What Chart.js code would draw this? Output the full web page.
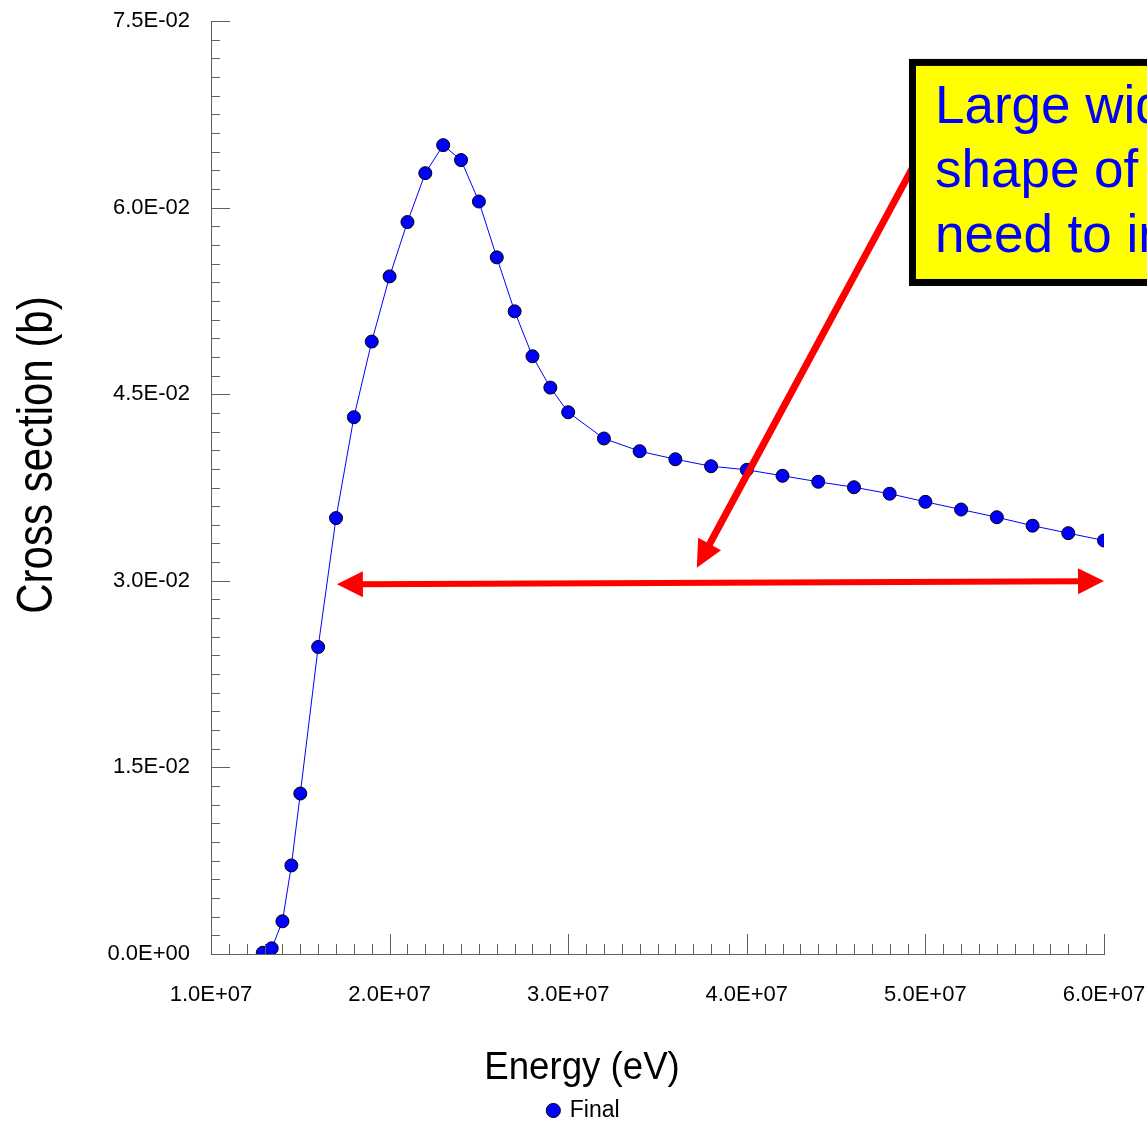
<!DOCTYPE html>
<html>
<head>
<meta charset="utf-8">
<script src="https://cdn.jsdelivr.net/npm/chart.js@4.4.0/dist/chart.umd.min.js"></script>
<style>
  html, body { margin: 0; padding: 0; background: #fff; }
</style>
</head>
<body>
<canvas id="chart" width="1147" height="1129"></canvas>
<script>
// excitation function, energy in eV, cross section in barns
const energy = [
  1.29e7, 1.34e7, 1.40e7, 1.45e7, 1.50e7, 1.60e7, 1.70e7, 1.80e7, 1.90e7, 2.00e7,
  2.10e7, 2.20e7, 2.30e7, 2.40e7, 2.50e7, 2.60e7, 2.70e7, 2.80e7, 2.90e7, 3.00e7,
  3.20e7, 3.40e7, 3.60e7, 3.80e7, 4.00e7, 4.20e7, 4.40e7, 4.60e7, 4.80e7, 5.00e7,
  5.20e7, 5.40e7, 5.60e7, 5.80e7, 6.00e7
];
const crossSection = [
  0.0001, 0.00046, 0.00263, 0.00712, 0.0129, 0.02468, 0.03504, 0.04315, 0.04923, 0.05447,
  0.05884, 0.06277, 0.06502, 0.06382, 0.06049, 0.0560, 0.05166, 0.04805, 0.04553, 0.04355,
  0.04144, 0.04042, 0.03977, 0.03921, 0.03892, 0.03844, 0.03796, 0.03752, 0.0370, 0.03635,
  0.03573, 0.03511, 0.03443, 0.03383, 0.03324
];
const xTicks = [1e7, 2e7, 3e7, 4e7, 5e7, 6e7];
const yTicks = [0, 0.015, 0.03, 0.045, 0.06, 0.075];
const xMinorStep = 1e6;
const yMinorStep = 0.0015;
const seriesName = 'Final';
const xTitle = 'Energy (eV)';
const yTitle = 'Cross section (b)';
const noteLines = ['Large width in the', 'shape of the peak', 'need to improve'];

const FONT = '"Liberation Sans", Arial, sans-serif';
const AXIS = '#606060';

// 7.5E-02 style labels
function sci(v) {
  const [m, e] = v.toExponential(1).split('e');
  const n = parseInt(e, 10);
  return m + 'E' + (n < 0 ? '-' : '+') + String(Math.abs(n)).padStart(2, '0');
}

// major/minor ticks pointing into the plot
const innerTicks = {
  id: 'innerTicks',
  afterDraw(chart) {
    const { ctx, chartArea: a, scales: { x, y } } = chart;
    ctx.save();
    ctx.strokeStyle = AXIS;
    ctx.lineWidth = 1;
    ctx.beginPath();
    const nx = Math.round((x.max - x.min) / xMinorStep);
    for (let i = 0; i <= nx; i++) {
      const px = Math.round(x.getPixelForValue(x.min + i * xMinorStep)) + 0.5;
      const len = i % 10 === 0 ? 20 : 10;
      ctx.moveTo(px, a.bottom);
      ctx.lineTo(px, a.bottom - len);
    }
    const ny = Math.round((y.max - y.min) / yMinorStep);
    for (let i = 0; i <= ny; i++) {
      const py = Math.round(y.getPixelForValue(y.min + i * yMinorStep)) + 0.5;
      const len = i % 10 === 0 ? 19 : 9;
      ctx.moveTo(a.left, py);
      ctx.lineTo(a.left + len, py);
    }
    ctx.stroke();
    ctx.restore();
  }
};

// axis titles, slightly condensed like the plotting package draws them
const axisTitles = {
  id: 'axisTitles',
  afterDraw(chart) {
    const { ctx } = chart;
    ctx.save();
    ctx.fillStyle = '#000';
    ctx.textAlign = 'center';
    ctx.textBaseline = 'middle';
    ctx.font = '39px ' + FONT;
    ctx.save();
    ctx.translate(582, 1068);
    ctx.scale(0.94, 1);
    ctx.fillText(xTitle, 0, 0);
    ctx.restore();
    ctx.font = '50px ' + FONT;
    ctx.translate(38, 455);
    ctx.rotate(-Math.PI / 2);
    ctx.scale(0.84, 1);
    ctx.fillText(yTitle, 0, 0);
    ctx.restore();
  }
};

// legend sits under the axis title rather than under the plot centre
const legendShift = {
  id: 'legendShift',
  afterLayout(chart) {
    const lg = chart.legend;
    lg.left += 32; lg.right += 32;
    lg.top += 3; lg.bottom += 3;
  }
};

// annotation: red arrows and the yellow note, placed in data units
const note = {
  span: { from: [1.705e7, 0.02972], to: [6.0e7, 0.02998] },
  pointer: { from: [4.93e7, 0.06326], to: [3.72e7, 0.03105] },
  box: { x: 4.908e7, top: 0.07195, bottom: 0.0537 }
};

function head(ctx, fx, fy, tx, ty, len, half) {
  const ang = Math.atan2(ty - fy, tx - fx);
  const c = Math.cos(ang), s = Math.sin(ang);
  ctx.beginPath();
  ctx.moveTo(tx, ty);
  ctx.lineTo(tx - len * c + half * s, ty - len * s - half * c);
  ctx.lineTo(tx - len * c - half * s, ty - len * s + half * c);
  ctx.closePath();
  ctx.fill();
  return [tx - len * c * 0.8, ty - len * s * 0.8];
}

const annotation = {
  id: 'annotation',
  afterDraw(chart) {
    const { ctx, scales: { x, y } } = chart;
    const P = ([e, v]) => [x.getPixelForValue(e), y.getPixelForValue(v)];
    ctx.save();
    ctx.fillStyle = '#ff0000';
    ctx.strokeStyle = '#ff0000';

    // double-headed span arrow
    const [ax, ay] = P(note.span.from);
    const [bx, by] = P(note.span.to);
    const l = head(ctx, bx, by, ax, ay, 26, 13);
    const r = head(ctx, ax, ay, bx, by, 26, 13);
    ctx.lineWidth = 6;
    ctx.beginPath();
    ctx.moveTo(l[0], l[1]);
    ctx.lineTo(r[0], r[1]);
    ctx.stroke();

    // pointer from the note
    const [px, py] = P(note.pointer.from);
    const [qx, qy] = P(note.pointer.to);
    const q = head(ctx, px, py, qx, qy, 27, 13);
    ctx.lineWidth = 7;
    ctx.beginPath();
    ctx.moveTo(px, py);
    ctx.lineTo(q[0], q[1]);
    ctx.stroke();

    // note box
    const bl = x.getPixelForValue(note.box.x);
    const bt = y.getPixelForValue(note.box.top);
    const bb = y.getPixelForValue(note.box.bottom);
    const w = 300;
    ctx.fillStyle = '#000';
    ctx.fillRect(bl, bt, w, bb - bt);
    ctx.fillStyle = '#ffff00';
    ctx.fillRect(bl + 7, bt + 7, w - 14, bb - bt - 14);
    ctx.fillStyle = '#0000ff';
    ctx.font = '53px ' + FONT;
    ctx.textAlign = 'left';
    ctx.textBaseline = 'alphabetic';
    noteLines.forEach((t, i) => ctx.fillText(t, bl + 26, bt + 64 + i * 64.5));
    ctx.restore();
  }
};

new Chart(document.getElementById('chart'), {
  type: 'line',
  data: {
    datasets: [{
      label: seriesName,
      data: energy.map((e, i) => ({ x: e, y: crossSection[i] })),
      borderColor: '#0000ff',
      borderWidth: 1,
      pointBackgroundColor: '#0000ff',
      pointBorderColor: '#000000',
      pointBorderWidth: 1,
      pointRadius: 6.5,
      tension: 0,
      clip: 0
    }]
  },
  options: {
    responsive: false,
    animation: false,
    layout: { padding: { top: 21, right: 43, left: 0, bottom: 0 } },
    plugins: {
      tooltip: { enabled: false },
      legend: {
        position: 'bottom',
        labels: {
          usePointStyle: true,
          pointStyle: 'circle',
          boxWidth: 10,
          boxHeight: 10,
          padding: 4,
          color: '#000',
          font: { family: FONT, size: 23 }
        }
      }
    },
    scales: {
      x: {
        type: 'linear',
        min: 1e7,
        max: 6e7,
        afterBuildTicks: s => { s.ticks = xTicks.map(v => ({ value: v })); },
        afterFit: s => { s.height = 138; s.paddingLeft = 0; s.paddingRight = 0; },
        grid: { display: false, drawTicks: false },
        border: { display: true, color: AXIS, width: 1 },
        ticks: {
          padding: 28,
          color: '#000',
          maxRotation: 0,
          font: { family: FONT, size: 22 },
          callback: v => sci(v)
        }
      },
      y: {
        type: 'linear',
        min: 0,
        max: 0.075,
        afterBuildTicks: s => { s.ticks = yTicks.map(v => ({ value: v })); },
        afterFit: s => { s.width = 211; s.paddingTop = 0; s.paddingBottom = 0; },
        grid: { display: false, drawTicks: false },
        border: { display: true, color: AXIS, width: 1 },
        ticks: {
          padding: 21,
          color: '#000',
          font: { family: FONT, size: 22 },
          callback: v => sci(v)
        }
      }
    }
  },
  plugins: [innerTicks, annotation, axisTitles, legendShift]
});
</script>
</body>
</html>
